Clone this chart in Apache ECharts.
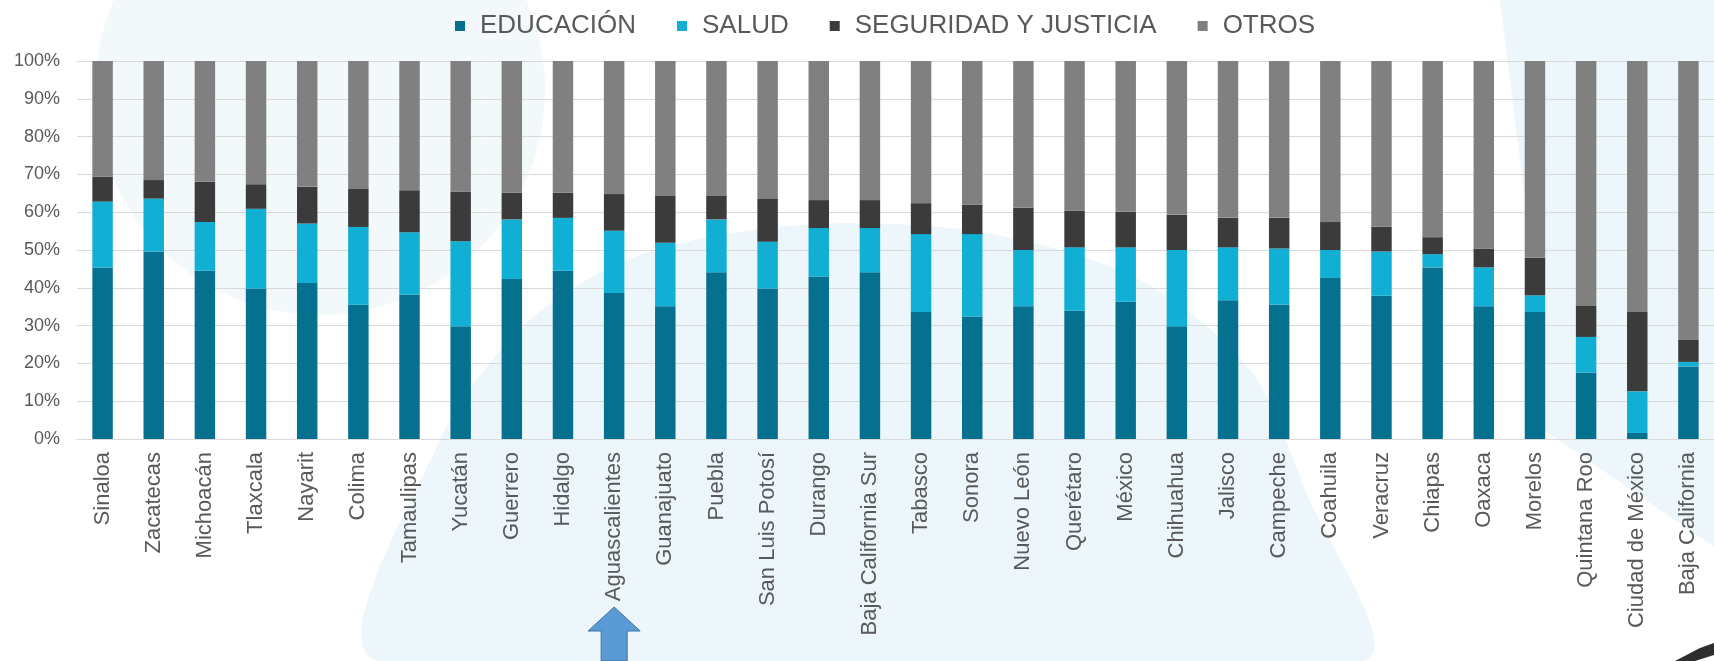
<!DOCTYPE html>
<html>
<head>
<meta charset="utf-8">
<script src="https://cdn.jsdelivr.net/npm/echarts@6/dist/echarts.min.js"></script>
<style>
html,body{margin:0;padding:0;background:#ffffff;}
#c{width:1714px;height:661px;}
</style>
</head>
<body>
<div id="c"></div>
<script>
const categories = ["Sinaloa","Zacatecas","Michoacán","Tlaxcala","Nayarit","Colima","Tamaulipas","Yucatán","Guerrero","Hidalgo","Aguascalientes","Guanajuato","Puebla","San Luis Potosí","Durango","Baja California Sur","Tabasco","Sonora","Nuevo León","Querétaro","México","Chihuahua","Jalisco","Campeche","Coahuila","Veracruz","Chiapas","Oaxaca","Morelos","Quintana Roo","Ciudad de México","Baja California"];
const educacion = [45.4,49.6,44.5,39.8,41.3,35.5,38.2,29.8,42.3,44.5,38.6,35.1,44.1,39.8,43.0,44.1,33.6,32.4,35.1,33.9,36.3,29.8,36.7,35.5,42.6,37.9,45.4,35.1,33.6,17.6,1.6,19.2];
const salud = [17.4,14.0,12.9,21.1,15.7,20.6,16.5,22.5,15.8,14.0,16.5,16.8,14.0,12.4,12.8,11.7,20.6,21.8,14.9,16.8,14.4,20.2,14.0,14.9,7.4,11.7,3.5,10.3,4.4,9.4,11.0,1.2];
const seguridad = [6.6,4.9,10.7,6.5,9.7,10.2,11.1,13.2,7.1,6.7,9.7,12.4,6.2,11.3,7.4,7.4,8.2,7.8,11.2,9.7,9.4,9.3,7.8,8.1,7.4,6.6,4.5,5.0,10.0,8.2,21.0,5.8];
const otros = [30.6,31.5,31.9,32.6,33.3,33.7,34.2,34.5,34.8,34.8,35.2,35.7,35.7,36.5,36.8,36.8,37.6,38.0,38.8,39.6,39.9,40.7,41.5,41.5,42.6,43.8,46.6,49.6,52.0,64.8,66.4,73.8];
const seriesNames = ["EDUCACIÓN","SALUD","SEGURIDAD Y JUSTICIA","OTROS"];
const highlighted = "Aguascalientes";

const colors = ["#06718f","#12afd5","#3b3b3b","#808080"];
const font = '"Liberation Sans", Arial, sans-serif';
const chart = echarts.init(document.getElementById('c'), null, {renderer:'canvas'});

const bg = [
  {type:'circle', shape:{cx:320, cy:90, r:225}, style:{fill:'#f3f8fb'}, z:-10, silent:true},
  {type:'polygon', shape:{points:[[378,661],[440,440],[530,320],[640,255],[800,225],[980,232],[1140,280],[1250,370],[1305,490],[1362,661]], smooth:0.3}, style:{fill:'#edf6fa'}, z:-10, silent:true},
  {type:'polygon', shape:{points:[[1500,0],[1714,0],[1714,547],[1540,427],[1525,200]]}, style:{fill:'#edf6fa'}, z:-10, silent:true},
  {type:'polygon', shape:{points:[[1675,661],[1700,648],[1714,643],[1714,655],[1695,661]]}, style:{fill:'#2e2e2e'}, z:-5, silent:true}
];

const data = [educacion, salud, seguridad, otros];
chart.setOption({
  backgroundColor: '#ffffff',
  animation: false,
  textStyle: {fontFamily: font},
  color: colors,
  legend: {
    data: seriesNames,
    left: 450, top: 8,
    icon: 'rect', itemWidth: 10, itemHeight: 10, itemGap: 41,
    textStyle: {fontSize: 26, color: '#595959', fontFamily: font, padding: [0,0,0,10]}
  },
  grid: {left: 77, top: 61, width: 1641, height: 378, containLabel: false},
  xAxis: {
    type: 'category', data: categories,
    axisTick: {show: false},
    axisLine: {lineStyle: {color: '#d9d9d9', width: 1}},
    axisLabel: {rotate: 90, interval: 0, fontSize: 22, color: '#595959', margin: 13, fontFamily: font}
  },
  yAxis: {
    type: 'value', min: 0, max: 100, interval: 10,
    axisLine: {show: false}, axisTick: {show: false},
    splitLine: {lineStyle: {color: '#d9d9d9', width: 1}},
    axisLabel: {formatter: '{value}%', fontSize: 18, color: '#595959', margin: 17, fontFamily: font}
  },
  series: seriesNames.map((n, i) => ({
    name: n, type: 'bar', stack: 'total', barWidth: '40%',
    data: data[i], itemStyle: {color: colors[i]}
  })),
  graphic: bg
});

const ax = chart.convertToPixel({xAxisIndex: 0}, highlighted);
const arrow = {
  type: 'polygon', z: 10, silent: true,
  shape: {points: [[ax, 607], [ax + 26, 631], [ax + 13, 631], [ax + 13, 661], [ax - 13, 661], [ax - 13, 631], [ax - 26, 631]]},
  style: {fill: '#5b9bd5', stroke: '#41719c', lineWidth: 1}
};
chart.setOption({graphic: bg.concat([arrow])});
</script>
</body>
</html>
